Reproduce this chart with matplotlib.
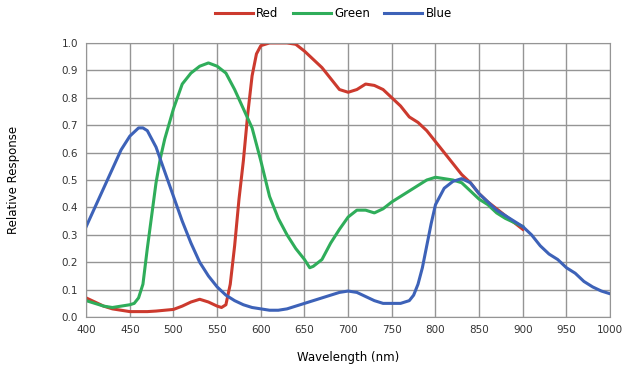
import matplotlib.pyplot as plt

# wavelengths (nm) and relative response
red_wl = [400, 410, 420, 430, 440, 450, 460, 470, 480, 490, 500, 510, 520, 530, 540,
          550, 555, 560, 565, 570, 575, 580, 585, 590, 595, 600, 610, 620, 630, 640,
          650, 660, 670, 680, 690, 700, 710, 720, 730, 740, 750, 760, 770, 780, 790,
          800, 810, 820, 830, 840, 850, 860, 870, 880, 890, 900]
red_val = [0.07, 0.055, 0.04, 0.03, 0.025, 0.02, 0.02, 0.02, 0.022, 0.025, 0.028, 0.04, 0.055, 0.065, 0.055,
           0.04, 0.035, 0.045, 0.12, 0.26, 0.43, 0.57, 0.74, 0.88, 0.96, 0.99, 1.0, 1.0, 1.0, 0.995,
           0.97, 0.94, 0.91, 0.87, 0.83, 0.82, 0.83, 0.85, 0.845, 0.83, 0.80, 0.77, 0.73, 0.71, 0.68,
           0.64, 0.60, 0.56, 0.52, 0.49, 0.45, 0.42, 0.395, 0.37, 0.345, 0.32]

green_wl = [400, 410, 420, 430, 440, 450, 455, 460, 465, 470, 475, 480, 485, 490, 500,
            510, 520, 530, 540, 550, 560, 570, 580, 590, 600, 610, 620, 630, 640, 650,
            656, 660, 670, 680, 690, 700, 710, 720, 730, 740, 750, 760, 770, 780, 790,
            800, 810, 820, 830, 840, 850, 860, 870, 880, 890, 900]
green_val = [0.06, 0.05, 0.04, 0.035, 0.04, 0.045, 0.05, 0.07, 0.12, 0.25, 0.37, 0.49, 0.58, 0.65, 0.76,
             0.85, 0.89, 0.915, 0.927, 0.915, 0.89, 0.83, 0.76, 0.69, 0.57, 0.44, 0.36, 0.30, 0.25, 0.21,
             0.18, 0.185, 0.21, 0.27, 0.32, 0.365, 0.39, 0.39, 0.38, 0.395, 0.42, 0.44, 0.46, 0.48, 0.50,
             0.51, 0.505, 0.50, 0.49, 0.46, 0.43, 0.41, 0.38, 0.36, 0.345, 0.33]

blue_wl = [400, 410, 420, 430, 440, 450, 460, 465, 470, 480, 490, 500, 510, 520, 530,
           540, 550, 560, 570, 580, 590, 600, 610, 620, 630, 640, 650, 660, 670, 680,
           690, 700, 710, 720, 730, 740, 750, 760, 770, 775, 780, 785, 790, 795, 800,
           810, 820, 830, 840, 850, 860, 870, 880, 890, 900, 910, 920, 930, 940, 950,
           960, 970, 980, 990, 1000]
blue_val = [0.33, 0.40, 0.47, 0.54, 0.61, 0.66, 0.69, 0.69, 0.68, 0.62, 0.53, 0.44, 0.35, 0.27, 0.20,
            0.15, 0.11, 0.08, 0.06, 0.045, 0.035, 0.03, 0.025, 0.025, 0.03, 0.04, 0.05, 0.06, 0.07, 0.08,
            0.09, 0.095, 0.09, 0.075, 0.06, 0.05, 0.05, 0.05, 0.06, 0.08, 0.12, 0.18, 0.26, 0.34, 0.41,
            0.47, 0.495, 0.505, 0.49, 0.45, 0.42, 0.39, 0.37, 0.35, 0.33, 0.30, 0.26, 0.23, 0.21, 0.18,
            0.16, 0.13, 0.11, 0.095, 0.085]

x_ticks = list(range(400, 1001, 50))
y_ticks = [i / 10 for i in range(11)]

fig = plt.figure(figsize=(6.29, 3.70), dpi=100)
ax = fig.add_axes([0.137, 0.143, 0.833, 0.741])

ax.plot(red_wl, red_val, color='#cc3a2e', lw=2.2, label='Red', solid_joinstyle='round')
ax.plot(green_wl, green_val, color='#2fad5a', lw=2.2, label='Green', solid_joinstyle='round')
ax.plot(blue_wl, blue_val, color='#3d62b8', lw=2.2, label='Blue', solid_joinstyle='round')

ax.set_xlim(400, 1000)
ax.set_ylim(0, 1.0)
ax.set_xticks(x_ticks)
ax.set_yticks(y_ticks)
ax.set_yticklabels([f'{v:.1f}' for v in y_ticks])
ax.tick_params(length=0, labelsize=7.5, colors='#333333', pad=6)
ax.grid(True, color='#959595', lw=1)
ax.set_axisbelow(True)
for s in ax.spines.values():
    s.set_color('#959595')

ax.set_xlabel('Wavelength (nm)', fontsize=8.5, labelpad=11)
ax.set_ylabel('Relative Response', fontsize=8.5, labelpad=30)

fig.legend(loc='upper center', bbox_to_anchor=(0.53, 1.01), ncol=3, frameon=False,
           fontsize=8.5, handlelength=3.2, handletextpad=0.3, columnspacing=1.2)

fig.savefig('out.png', dpi=100)
